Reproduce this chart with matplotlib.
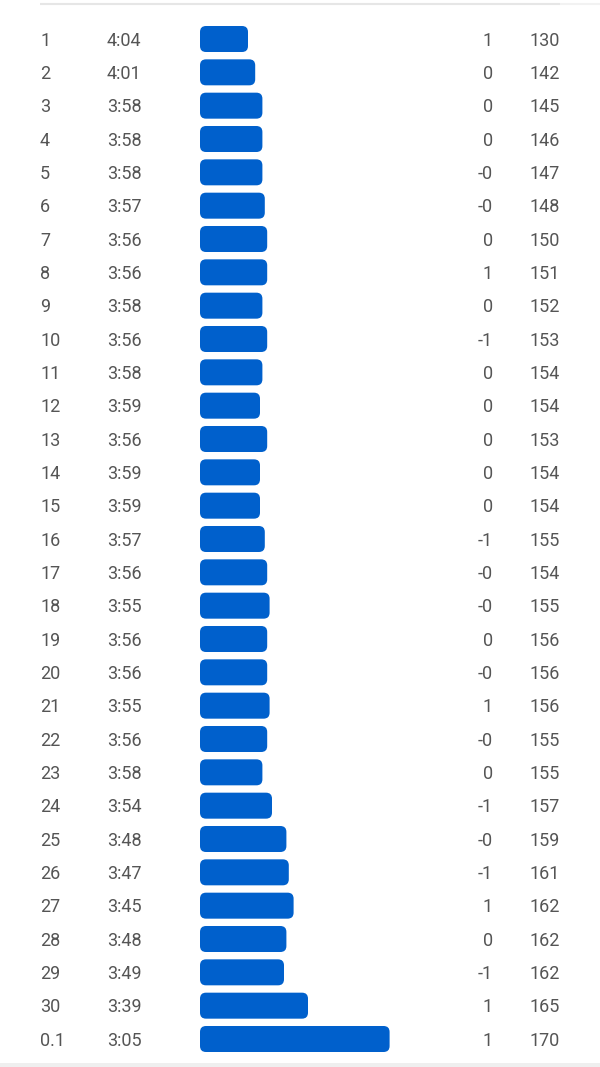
import numpy as np
import matplotlib.pyplot as plt
from matplotlib.patches import FancyBboxPatch, Rectangle

plt.rcParams['font.family'] = ['Roboto', 'DejaVu Sans']

laps = ["1", "2", "3", "4", "5", "6", "7", "8", "9", "10",
        "11", "12", "13", "14", "15", "16", "17", "18", "19", "20",
        "21", "22", "23", "24", "25", "26", "27", "28", "29", "30", "0.1"]
paces = ["4:04", "4:01", "3:58", "3:58", "3:58", "3:57", "3:56", "3:56", "3:58", "3:56",
         "3:58", "3:59", "3:56", "3:59", "3:59", "3:57", "3:56", "3:55", "3:56", "3:56",
         "3:55", "3:56", "3:58", "3:54", "3:48", "3:47", "3:45", "3:48", "3:49", "3:39", "3:05"]
elev = ["1", "0", "0", "0", "-0", "-0", "0", "1", "0", "-1",
        "0", "0", "0", "0", "0", "-1", "-0", "-0", "0", "-0",
        "1", "-0", "0", "-1", "-0", "-1", "1", "0", "-1", "1", "1"]
hr = [130, 142, 145, 146, 147, 148, 150, 151, 152, 153,
      154, 154, 153, 154, 154, 155, 154, 155, 156, 156,
      156, 155, 155, 157, 159, 161, 162, 162, 162, 165, 170]

pace_sec = np.array([int(p.split(":")[0]) * 60 + int(p.split(":")[1]) for p in paces])
base_sec = 264  # bar length = base_sec - pace

W, H = 600, 1067
row_px = 1000 / 30
top_px = 39
y_top = -top_px / row_px
y_bot = (H - top_px) / row_px
px_per_sec = 2.4

fig = plt.figure(figsize=(W / 100, H / 100), dpi=100)
fig.patch.set_facecolor("white")

ax = fig.add_axes([0, 0, 1, 1])
ax.set_xlim(0, W)
ax.set_ylim(y_bot, y_top)
ax.axis("off")

bx = fig.add_axes([200 / W, 0, 400 / W, 1], sharey=ax)
bx.set_xlim(0, 400 / px_per_sec)
bx.axis("off")

txt = "#555555"
fs = 13
dy = 1.5 / row_px
rows = np.arange(len(laps))
for i in rows:
    ax.text(40, i + dy, laps[i], ha="left", va="center", fontsize=fs, color=txt)
    ax.text(107, i + dy, paces[i], ha="left", va="center", fontsize=fs, color=txt)
    ax.text(493, i + dy, elev[i], ha="right", va="center", fontsize=fs, color=txt)
    ax.text(560, i + dy, str(hr[i]), ha="right", va="center", fontsize=fs, color=txt)

bar_h = 26 / row_px
r = 6 / px_per_sec
aspect = px_per_sec / row_px
for i, w in zip(rows, base_sec - pace_sec):
    bx.add_patch(FancyBboxPatch((r, i - bar_h / 2 + r * aspect), w - 2 * r, bar_h - 2 * r * aspect,
                                boxstyle="round,pad=%f,rounding_size=%f" % (r, r),
                                mutation_aspect=aspect, fc="#0060cc", ec="none"))

# top separator and bottom band
ax.plot([40, 560], [y_top + 4 / row_px] * 2, color="#e6e6e6", lw=1.5, solid_capstyle="butt")
ax.plot([560, 600], [y_top + 4 / row_px] * 2, color="#f2f2f2", lw=1.5, solid_capstyle="butt")
ax.add_patch(Rectangle((0, y_bot - 4 / row_px), W, 4 / row_px, fc="#efefef", ec="none"))

fig.savefig("out.png", dpi=100, facecolor="white")
